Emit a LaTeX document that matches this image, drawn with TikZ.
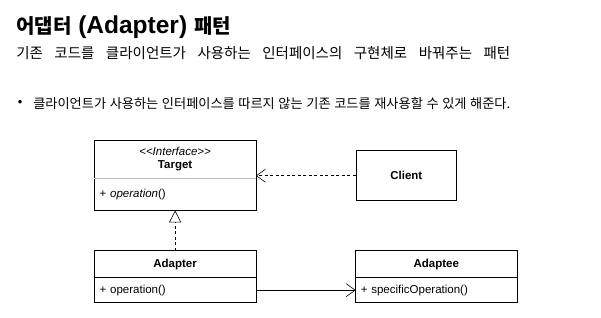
\documentclass[tikz,border=0pt]{standalone}
\usepackage{fontspec}
\setmainfont{Liberation Sans}
\newfontfamily\kr{Noto Sans CJK KR}
\usetikzlibrary{positioning, calc, arrows.meta}
\definecolor{DividerGray}{rgb}{0.72,0.72,0.72}
\tikzset{
    classhead/.style={
        shape=rectangle,
        inner sep=0pt,
        minimum width=161pt,
        minimum height=#1,
        align=center,
        font=\fontsize{11.5}{13}\selectfont
    },
    classbody/.style={
        shape=rectangle,
        inner sep=0pt,
        minimum width=161pt,
        minimum height=#1,
        text width=151pt,
        align=left,
        font=\fontsize{11.5}{13}\selectfont
    },
    depline/.style={dash pattern=on 3pt off 2.5pt},
    openvee/.style={-{Straight Barb[length=9pt, width=13pt]}},
    opentri/.style={-{Triangle[open, length=12pt, width=12pt]}}
}

\begin{document}
\begin{tikzpicture}[x=1pt, y=-1pt, line width=0.6pt]

\useasboundingbox (0,0) rectangle (601,317);

% Title
\node[anchor=west, inner sep=0pt, font=\fontsize{24.5}{28}\bfseries] (title) at (16, 27)
    {{\kr\fontsize{20}{28}\selectfont 어댑터} (Adapter) {\kr\fontsize{20}{28}\selectfont 패턴}};

\node[anchor=west, inner sep=0pt, font=\kr\fontsize{14.5}{17}\selectfont] (subtitle) at (16, 53)
    {\makebox[494pt][s]{기존 코드를 클라이언트가 사용하는 인터페이스의 구현체로 바꿔주는 패턴}};

% Bullet
\node[anchor=west, inner sep=0pt, font=\fontsize{13}{14}\selectfont] (dot) at (17.5, 103) {\textbullet};
\node[anchor=west, inner sep=0pt, font=\kr\fontsize{13.2}{16}\selectfont] (point) at (33, 103)
    {\makebox[477pt][s]{클라이언트가 사용하는 인터페이스를 따르지 않는 기존 코드를 재사용할 수 있게 해준다.}};

% Target
\node[classhead=37.6pt] (t_head) at (175.1, 159.5)
    {\textit{<{}<Interface>{}>}\\\textbf{Target}};
\node[classbody=31.2pt, below=0pt of t_head] (t_body) {+ \textit{operation}()};
\draw (t_head.north west) rectangle (t_body.south east);
\draw[DividerGray] (t_body.north west) -- (t_body.north east);

% Client
\node[draw, minimum width=100.7pt, minimum height=50pt, font=\fontsize{11.5}{13}\bfseries] (client) at (406.3, 175.7) {Client};

% Adapter
\node[classhead=26.3pt, font=\fontsize{11.5}{13}\bfseries] (a_head) at (175.1, 264.2) {Adapter};
\node[classbody=24.4pt, below=0pt of a_head] (a_body) {+ operation()};
\draw (a_head.north west) rectangle (a_body.south east);
\draw (a_body.north west) -- (a_body.north east);

% Adaptee
\node[classhead=26.3pt, minimum width=160.7pt, font=\fontsize{11.5}{13}\bfseries] (ae_head) at (436.3, 264.2) {Adaptee};
\node[classbody=24.4pt, minimum width=160.7pt, below=0pt of ae_head] (ae_body) {+ specificOperation()};
\draw (ae_head.north west) rectangle (ae_body.south east);
\draw (ae_body.north west) -- (ae_body.north east);

% Relations
\draw[depline, openvee] (client.west) -- (client.west -| t_head.east);
\draw[depline, opentri] (a_head.north) -- (t_body.south);
\draw[openvee] (a_body.east) -- (a_body.east -| ae_body.west);

\end{tikzpicture}
\end{document}
